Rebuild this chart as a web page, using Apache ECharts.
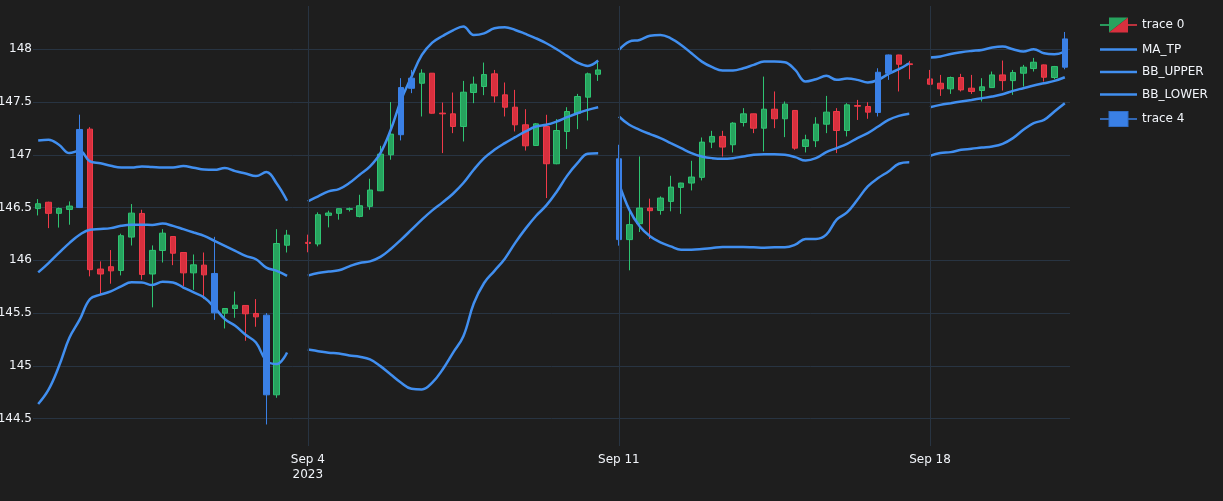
<!DOCTYPE html>
<html>
<head>
<meta charset="utf-8">
<script src="https://cdn.jsdelivr.net/npm/echarts@6/dist/echarts.min.js"></script>
<style>
  html, body { margin: 0; padding: 0; background: #1e1e1e; }
  #chart { width: 1223px; height: 501px; }
</style>
</head>
<body>
<div id="chart"></div>
<script>
// 4h bars, weekends skipped (null = no bar)
var opens = [146.49,146.55,146.445,146.482,146.50,147.243,145.917,145.939,145.904,146.22,
  146.444,145.87,146.093,146.225,146.074,145.881,145.954,145.875,145.499,145.543,
  145.572,145.496,145.48,144.725,146.143,null,146.17,146.155,146.426,146.445,
  146.483,146.416,146.511,146.659,147.0,147.19,147.63,147.678,147.773,147.395,
  147.388,147.268,147.59,147.647,147.767,147.568,147.451,147.284,147.088,147.268,
  146.915,147.221,147.394,147.546,147.763,null,146.962,146.196,146.347,146.495,
  146.473,146.558,146.691,146.732,146.786,147.12,147.174,147.095,147.306,147.388,
  147.252,147.432,147.341,147.42,147.079,147.133,147.29,147.41,147.23,147.467,
  147.457,147.401,147.773,147.946,147.862,null,147.719,147.678,147.625,147.732,
  147.631,147.609,147.637,147.757,147.703,147.773,147.817,147.852,147.732,147.83];
var closes = [146.536,146.445,146.49,146.514,147.24,145.911,145.87,145.90,146.233,146.447,
  145.866,146.094,146.257,146.067,145.881,145.957,145.862,145.502,145.543,145.575,
  145.493,145.464,144.725,146.159,146.238,null,146.16,146.432,146.448,146.489,
  146.489,146.517,146.666,147.006,147.196,147.637,147.726,147.773,147.394,147.388,
  147.268,147.593,147.669,147.76,147.558,147.451,147.284,147.085,147.293,146.915,
  147.23,147.41,147.552,147.767,147.804,null,146.196,146.338,146.495,146.47,
  146.59,146.694,146.732,146.789,147.12,147.174,147.073,147.3,147.388,147.252,
  147.432,147.341,147.48,147.063,147.142,147.29,147.404,147.23,147.473,147.46,
  147.404,147.782,147.946,147.858,147.855,null,147.669,147.625,147.732,147.615,
  147.6,147.644,147.757,147.703,147.779,147.83,147.877,147.735,147.836,148.098];
var lows = [146.425,146.305,146.31,146.337,146.495,145.848,145.67,145.778,145.857,146.14,
  145.816,145.554,145.979,145.954,145.755,145.72,145.632,145.436,145.354,145.455,
  145.237,145.37,144.444,144.697,146.074,null,146.076,146.132,146.312,146.385,
  146.463,146.407,146.479,146.655,146.953,147.136,147.584,147.363,147.39,147.016,
  147.205,147.126,147.489,147.565,147.495,147.363,147.221,147.04,147.085,146.59,
  146.91,147.054,147.243,147.325,147.70,null,146.139,145.905,146.268,146.202,
  146.432,146.464,146.44,146.662,146.757,147.063,146.984,147.022,147.268,147.205,
  147.032,147.252,147.167,147.047,147.022,147.073,147.205,147.016,147.174,147.33,
  147.341,147.363,147.71,147.6,147.716,null,147.665,147.558,147.577,147.6,
  147.577,147.505,147.635,147.609,147.568,147.647,147.789,147.694,147.716,147.81];
var highs = [146.58,146.555,146.50,146.558,147.38,147.262,145.99,146.097,146.252,146.533,
  146.479,146.141,146.295,146.228,146.076,146.055,146.074,146.222,145.545,145.704,
  145.574,145.632,145.50,146.295,146.288,null,146.243,146.454,146.47,146.49,
  146.50,146.621,146.773,147.085,147.50,147.726,147.804,147.81,147.775,147.495,
  147.59,147.70,147.741,147.874,147.804,147.685,147.615,147.432,147.30,147.379,
  147.338,147.451,147.577,147.779,147.883,null,147.095,146.48,146.984,146.584,
  146.606,146.801,146.735,146.943,147.164,147.227,147.227,147.309,147.442,147.39,
  147.741,147.6,147.505,147.422,147.19,147.356,147.558,147.442,147.489,147.52,
  147.498,147.82,147.95,147.948,147.89,null,147.804,147.757,147.741,147.767,
  147.757,147.726,147.789,147.893,147.804,147.852,147.918,147.855,147.842,148.164];
// bars drawn as "trace 4"
var blueIdx = [4, 17, 22, 35, 36, 56, 81, 82, 99];

var maTp = [145.885,145.974,146.07,146.163,146.242,146.29,146.296,146.305,146.327,146.337,
  146.337,146.335,146.348,146.326,146.295,146.263,146.232,146.184,146.137,146.09,
  146.042,146.01,145.93,145.9,145.853,null,145.855,145.88,145.893,145.905,
  145.943,145.975,145.99,146.032,146.107,146.196,146.29,146.385,146.473,146.549,
  146.631,146.732,146.858,146.968,147.047,147.11,147.167,147.221,147.268,147.284,
  147.315,147.356,147.394,147.426,147.451,null,147.363,147.284,147.237,147.196,
  147.158,147.11,147.063,147.016,146.984,146.968,146.962,146.968,146.984,147.0,
  147.006,147.006,147.0,146.978,146.946,146.968,147.025,147.063,147.104,147.158,
  147.205,147.268,147.331,147.369,147.388,null,147.451,147.473,147.489,147.505,
  147.52,147.536,147.552,147.574,147.606,147.631,147.656,147.678,147.7,147.735];
var bbUpper = [147.136,147.142,147.095,147.016,147.038,146.937,146.92,146.896,146.88,146.88,
  146.89,146.885,146.88,146.88,146.893,146.877,146.86,146.857,146.874,146.845,
  146.823,146.798,146.836,146.728,146.564,null,146.558,146.606,146.653,146.675,
  146.732,146.811,146.89,147.016,147.237,147.52,147.74,147.946,148.063,148.126,
  148.18,148.215,148.136,148.151,148.199,148.208,148.183,148.145,148.104,148.057,
  148.0,147.937,147.874,147.842,147.893,null,147.994,148.073,148.088,148.129,
  148.136,148.104,148.041,147.962,147.883,147.83,147.798,147.798,147.82,147.852,
  147.883,147.883,147.877,147.804,147.694,147.716,147.748,147.71,147.722,147.71,
  147.685,147.71,147.767,147.811,147.868,null,147.921,147.931,147.956,147.972,
  147.984,147.994,148.016,148.025,148.0,147.978,148.0,147.962,147.953,147.978];
var bbLower = [144.638,144.774,144.995,145.263,145.437,145.633,145.674,145.705,145.753,145.791,
  145.79,145.765,145.796,145.79,145.742,145.695,145.647,145.553,145.442,145.379,
  145.294,145.221,145.048,145.016,145.126,null,145.155,145.139,145.123,145.117,
  145.098,145.085,145.06,144.997,144.918,144.84,144.782,144.776,144.84,144.965,
  145.123,145.28,145.59,145.785,145.90,146.015,146.165,146.30,146.42,146.52,
  146.65,146.80,146.92,147.01,147.015,null,146.732,146.48,146.322,146.227,
  146.17,146.132,146.101,146.101,146.107,146.117,146.126,146.126,146.126,146.123,
  146.12,146.123,146.123,146.148,146.202,146.202,146.243,146.385,146.454,146.574,
  146.70,146.779,146.842,146.915,146.93,null,146.99,147.016,147.025,147.047,
  147.057,147.069,147.079,147.104,147.158,147.237,147.3,147.331,147.41,147.489];

var tickDates = ['2023-09-04 00:00', '2023-09-11 00:00', '2023-09-18 00:00'];
var tickLabels = ['Sep 4\n2023', 'Sep 11', 'Sep 18'];

// category per bar: every 4 hours from Mon Aug 28 16:00, Sat/Sun removed
function pad(n) { return n < 10 ? '0' + n : '' + n; }
var categories = [];
var t = Date.UTC(2023, 7, 28, 16);
while (categories.length < opens.length) {
    var d = new Date(t);
    var wd = d.getUTCDay();
    if (wd !== 0 && wd !== 6) {
        categories.push(d.getUTCFullYear() + '-' + pad(d.getUTCMonth() + 1) + '-' + pad(d.getUTCDate()) +
            ' ' + pad(d.getUTCHours()) + ':00');
    }
    t += 4 * 3600 * 1000;
}

var EMPTY = ['-', '-', '-', '-'];
var mainData = [], blueData = [];
for (var i = 0; i < opens.length; i++) {
    var bar = opens[i] == null ? EMPTY : [opens[i], closes[i], lows[i], highs[i]];
    if (blueIdx.indexOf(i) >= 0) {
        blueData.push(bar);
        mainData.push(EMPTY);
    } else {
        blueData.push(EMPTY);
        mainData.push(bar);
    }
}

var GREEN = '#27a35e', GREEN_EDGE = '#2ec472';
var RED = '#d8303e', RED_EDGE = '#f03a49';
var BLUE = '#3a80e6';
var LINE = '#418ff0';
var TEXT = '#f2f5fa';
var GRID = '#283442';
var FONT = 'DejaVu Sans';

function svgIcon(s) {
    return 'image://data:image/svg+xml;charset=utf-8,' + encodeURIComponent(s);
}
var candleIcon = svgIcon("<svg xmlns='http://www.w3.org/2000/svg' width='37' height='16'>" +
    "<line x1='0' y1='8' x2='9' y2='8' stroke='" + GREEN_EDGE + "' stroke-width='1.5'/>" +
    "<line x1='28' y1='8' x2='37' y2='8' stroke='" + RED_EDGE + "' stroke-width='1.5'/>" +
    "<polygon points='9,0.5 28,0.5 9,15.5' fill='" + GREEN + "'/>" +
    "<polygon points='28,0.5 28,15.5 9,15.5' fill='" + RED + "'/></svg>");
var blueIcon = svgIcon("<svg xmlns='http://www.w3.org/2000/svg' width='37' height='16'>" +
    "<line x1='0' y1='8' x2='37' y2='8' stroke='" + BLUE + "' stroke-width='1.5'/>" +
    "<rect x='9' y='0.5' width='19' height='15' fill='" + BLUE + "' stroke='#2f6cc4' stroke-width='1'/></svg>");
var lineIcon = 'path://M0,0H37V2.5H0Z';

function bandLine(name, data) {
    return {
        name: name,
        type: 'line',
        data: data,
        symbol: 'none',
        smooth: 0.4,
        connectNulls: false,
        lineStyle: { color: LINE, width: 2.5 },
        itemStyle: { color: LINE },
        z: 3
    };
}

var chart = echarts.init(document.getElementById('chart'));
var option = {
    backgroundColor: '#1e1e1e',
    animation: false,
    grid: { left: 33, right: 153, top: 6, bottom: 55, containLabel: false, outerBoundsMode: 'none' },
    legend: {
        orient: 'vertical',
        left: 1095,
        top: 12,
        itemWidth: 37,
        itemHeight: 16,
        itemGap: 10.5,
        textStyle: { color: TEXT, fontSize: 12, fontFamily: FONT },
        data: [
            { name: 'trace 0', icon: candleIcon },
            { name: 'MA_TP', icon: lineIcon },
            { name: 'BB_UPPER', icon: lineIcon },
            { name: 'BB_LOWER', icon: lineIcon },
            { name: 'trace 4', icon: blueIcon }
        ]
    },
    xAxis: {
        type: 'category',
        data: categories,
        boundaryGap: true,
        axisLine: { show: false },
        axisTick: { show: false },
        splitLine: { show: false },
        axisLabel: {
            interval: function (idx, val) { return tickDates.indexOf(val) >= 0; },
            formatter: function (val) {
                var k = tickDates.indexOf(val);
                return k >= 0 ? tickLabels[k] : '';
            },
            color: TEXT,
            fontSize: 12,
            fontFamily: FONT,
            lineHeight: 15,
            margin: 6
        }
    },
    yAxis: {
        type: 'value',
        min: 144.24,
        max: 148.41,
        splitNumber: 8,
        scale: true,
        axisLine: { show: false },
        axisTick: { show: false },
        splitLine: { show: true, showMinLine: false, showMaxLine: false, lineStyle: { color: GRID, width: 1 } },
        axisLabel: {
            showMinLabel: false,
            showMaxLabel: false,
            color: TEXT,
            fontSize: 12,
            fontFamily: FONT,
            margin: 1
        }
    },
    series: [
        {
            name: 'vgrid',
            type: 'line',
            data: [],
            z: 1,
            silent: true,
            markLine: {
                silent: true,
                symbol: ['none', 'none'],
                label: { show: false },
                lineStyle: { color: GRID, width: 1, type: 'solid' },
                data: tickDates.map(function (c) { return { xAxis: c }; })
            }
        },
        {
            name: 'trace 0',
            type: 'candlestick',
            data: mainData,
            barWidth: 6,
            itemStyle: {
                color: GREEN,
                color0: RED,
                borderColor: GREEN_EDGE,
                borderColor0: RED_EDGE,
                borderWidth: 1
            },
            z: 2
        },
        bandLine('MA_TP', maTp),
        bandLine('BB_UPPER', bbUpper),
        bandLine('BB_LOWER', bbLower),
        {
            name: 'trace 4',
            type: 'candlestick',
            data: blueData,
            barWidth: 6,
            itemStyle: {
                color: BLUE,
                color0: BLUE,
                borderColor: BLUE,
                borderColor0: BLUE,
                borderWidth: 1
            },
            z: 4
        }
    ]
};
chart.setOption(option);
</script>
</body>
</html>
